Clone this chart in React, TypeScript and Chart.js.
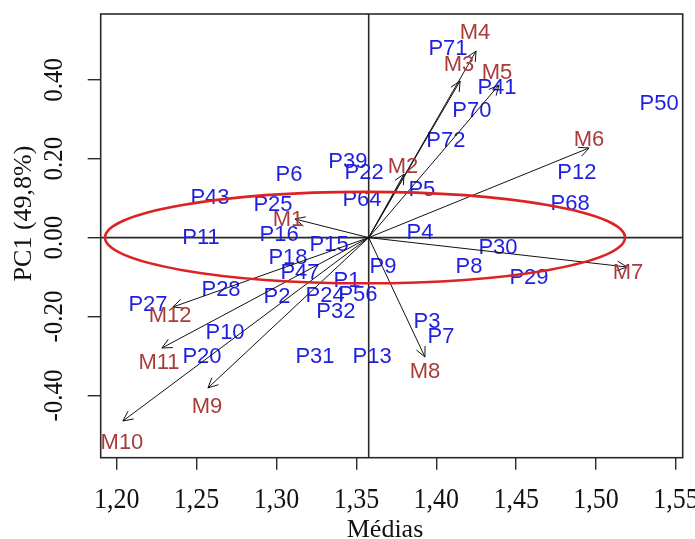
import React, { useEffect, useRef } from 'react';
import { Chart, registerables } from 'chart.js';

Chart.register(...registerables);

// ---------- data ----------
const xTickValues = [1.2, 1.25, 1.3, 1.35, 1.4, 1.45, 1.5, 1.55];
const xTickLabels = ['1,20', '1,25', '1,30', '1,35', '1,40', '1,45', '1,50', '1,55'];
const yTickValues = [-0.4, -0.2, 0, 0.2, 0.4];
const yTickLabels = ['-0.40', '-0.20', '0.00', '0.20', '0.40'];

const xTitle = 'Médias';
const yTitle = 'PC1 (49,8%)';

const xMin = 1.19;
const xMax = 1.5542;
const yMin = -0.5578;
const yMax = 0.5667;

// mean of "Médias" (vertical reference line, origin of the arrows)
const meanX = 1.3577;

const pLabels = [
  'P50', 'P71', 'P41', 'P70', 'P72', 'P39', 'P22', 'P6', 'P12', 'P43',
  'P25', 'P64', 'P5', 'P68', 'P11', 'P16', 'P15', 'P4', 'P30', 'P18',
  'P47', 'P9', 'P8', 'P29', 'P1', 'P28', 'P2', 'P24', 'P56', 'P27',
  'P32', 'P10', 'P20', 'P31', 'P13', 'P3', 'P7',
];
const pX = [
  1.5394, 1.4073, 1.438, 1.4223, 1.406, 1.3447, 1.3548, 1.3078, 1.488, 1.2584,
  1.2978, 1.3535, 1.391, 1.4837, 1.2528, 1.3016, 1.3329, 1.3898, 1.4386, 1.3072,
  1.3147, 1.3666, 1.4205, 1.458, 1.3441, 1.2653, 1.3003, 1.3304, 1.351, 1.2196,
  1.3372, 1.2678, 1.2534, 1.3241, 1.3598, 1.3942, 1.4029,
];
const pY = [
  0.3386, 0.478, 0.379, 0.321, 0.245, 0.1916, 0.1637, 0.1586, 0.1637, 0.1004,
  0.0826, 0.0953, 0.1206, 0.0851, -0.001, 0.0066, -0.0188, 0.0117, -0.0264, -0.0517,
  -0.0897, -0.0745, -0.0745, -0.1024, -0.11, -0.1328, -0.1505, -0.148, -0.1455, -0.1708,
  -0.1885, -0.2418, -0.3026, -0.3026, -0.3026, -0.2139, -0.2519,
];

const mLabels = ['M1', 'M2', 'M3', 'M4', 'M5', 'M6', 'M7', 'M8', 'M9', 'M10', 'M11', 'M12'];
const mX = [1.3072, 1.3792, 1.4142, 1.4242, 1.438, 1.4956, 1.52, 1.3929, 1.2565, 1.2033, 1.2265, 1.2334];
const mY = [0.0446, 0.1789, 0.4374, 0.5185, 0.4171, 0.2473, -0.0897, -0.3406, -0.4293, -0.5205, -0.3178, -0.1987];
const mArrowX = [1.3116, 1.3798, 1.4149, 1.4249, 1.4392, 1.4956, 1.5193, 1.3929, 1.2571, 1.2039, 1.2283, 1.2352];
const mArrowY = [0.0471, 0.1612, 0.3969, 0.4729, 0.3867, 0.2271, -0.0745, -0.3026, -0.3811, -0.4648, -0.2798, -0.1759];

const ellipseCenterX = 1.3554;
const ellipseCenterY = 0;
const ellipseRadiusX = 0.1627;
const ellipseRadiusY = 0.1158;

// ---------- styles ----------
const P_COLOR = '#1f1fe0';
const M_COLOR = '#a83c3a';
const ELLIPSE_COLOR = '#dc2323';
const AXIS_COLOR = '#2a2a2a';
const SANS = '"Liberation Sans", Arial, sans-serif';
const SERIF = '"Liberation Serif", "Times New Roman", serif';

const biplotPlugin = {
  id: 'biplot',
  afterDatasetsDraw(chart: any) {
    const ctx = chart.ctx as CanvasRenderingContext2D;
    const xs = chart.scales.x;
    const ys = chart.scales.y;
    const ca = chart.chartArea;
    const ox = xs.getPixelForValue(meanX);
    const oy = ys.getPixelForValue(0);

    ctx.save();
    // reference lines
    ctx.strokeStyle = AXIS_COLOR;
    ctx.lineWidth = 1.6;
    ctx.beginPath();
    ctx.moveTo(ox, ca.top);
    ctx.lineTo(ox, ca.bottom);
    ctx.moveTo(ca.left, oy);
    ctx.lineTo(ca.right, oy);
    ctx.stroke();

    // P labels
    ctx.font = `22px ${SANS}`;
    ctx.fillStyle = P_COLOR;
    ctx.textAlign = 'center';
    ctx.textBaseline = 'middle';
    chart.getDatasetMeta(0).data.forEach((el: any, i: number) => {
      ctx.fillText(pLabels[i], el.x, el.y);
    });

    // arrows
    ctx.strokeStyle = '#111';
    ctx.lineWidth = 1;
    chart.getDatasetMeta(2).data.forEach((el: any) => {
      const x1 = el.x;
      const y1 = el.y;
      const ang = Math.atan2(y1 - oy, x1 - ox);
      const hl = 11;
      const ha = Math.PI / 7;
      ctx.beginPath();
      ctx.moveTo(ox, oy);
      ctx.lineTo(x1, y1);
      ctx.moveTo(x1 - hl * Math.cos(ang - ha), y1 - hl * Math.sin(ang - ha));
      ctx.lineTo(x1, y1);
      ctx.lineTo(x1 - hl * Math.cos(ang + ha), y1 - hl * Math.sin(ang + ha));
      ctx.stroke();
    });

    // M labels
    ctx.font = `22px ${SANS}`;
    ctx.fillStyle = M_COLOR;
    chart.getDatasetMeta(1).data.forEach((el: any, i: number) => {
      ctx.fillText(mLabels[i], el.x, el.y);
    });

    // ellipse
    const ecx = xs.getPixelForValue(ellipseCenterX);
    const ecy = ys.getPixelForValue(ellipseCenterY);
    const erx = Math.abs(xs.getPixelForValue(ellipseCenterX + ellipseRadiusX) - ecx);
    const ery = Math.abs(ys.getPixelForValue(ellipseCenterY + ellipseRadiusY) - ecy);
    ctx.strokeStyle = ELLIPSE_COLOR;
    ctx.lineWidth = 2.6;
    ctx.beginPath();
    ctx.ellipse(ecx, ecy, erx, ery, 0, 0, Math.PI * 2);
    ctx.stroke();

    // box
    ctx.strokeStyle = AXIS_COLOR;
    ctx.lineWidth = 1.6;
    ctx.strokeRect(ca.left, ca.top, ca.right - ca.left, ca.bottom - ca.top);

    // x tick labels
    ctx.fillStyle = '#111';
    ctx.font = `26px ${SERIF}`;
    ctx.textAlign = 'center';
    ctx.textBaseline = 'alphabetic';
    xs.ticks.forEach((t: any, i: number) => {
      ctx.save();
      ctx.translate(xs.getPixelForValue(t.value), 508);
      ctx.scale(1, 1.14);
      ctx.fillText(xTickLabels[i], 0, 0);
      ctx.restore();
    });
    // x title
    ctx.fillText(xTitle, 385, 537);

    // y tick labels (rotated)
    ctx.font = `25px ${SERIF}`;
    ys.ticks.forEach((t: any, i: number) => {
      ctx.save();
      ctx.translate(61.5, ys.getPixelForValue(t.value));
      ctx.rotate(-Math.PI / 2);
      ctx.scale(1, 1.08);
      ctx.fillText(yTickLabels[i], 0, 0);
      ctx.restore();
    });
    // y title
    ctx.font = `26px ${SERIF}`;
    ctx.save();
    ctx.translate(30.5, 213.5);
    ctx.rotate(-Math.PI / 2);
    ctx.fillText(yTitle, 0, 0);
    ctx.restore();

    ctx.restore();
  },
};

export default function App() {
  const ref = useRef<HTMLCanvasElement | null>(null);

  useEffect(() => {
    if (!ref.current) return;
    const chart = new Chart(ref.current, {
      type: 'scatter',
      data: {
        datasets: [
          {
            label: 'P',
            data: pX.map((x, i) => ({ x, y: pY[i] })),
            pointRadius: 0,
            pointHoverRadius: 0,
          },
          {
            label: 'M',
            data: mX.map((x, i) => ({ x, y: mY[i] })),
            pointRadius: 0,
            pointHoverRadius: 0,
          },
          {
            label: 'arrows',
            data: mArrowX.map((x, i) => ({ x, y: mArrowY[i] })),
            pointRadius: 0,
            pointHoverRadius: 0,
          },
        ],
      },
      options: {
        animation: false,
        responsive: false,
        events: [],
        layout: { padding: { left: 0, top: 14, right: 12.3, bottom: 0 } },
        plugins: {
          legend: { display: false },
          tooltip: { enabled: false },
          title: { display: false },
        },
        scales: {
          x: {
            type: 'linear',
            position: 'bottom',
            min: xMin,
            max: xMax,
            afterBuildTicks: (s: any) => {
              s.ticks = xTickValues.map((v) => ({ value: v }));
            },
            afterFit: (s: any) => {
              s.height = 81.3;
            },
            ticks: { display: false },
            grid: {
              drawOnChartArea: false,
              drawTicks: true,
              tickLength: 12,
              color: AXIS_COLOR,
              lineWidth: 1.4,
            },
            border: { display: false },
          },
          y: {
            type: 'linear',
            position: 'left',
            min: yMin,
            max: yMax,
            afterBuildTicks: (s: any) => {
              s.ticks = yTickValues.map((v) => ({ value: v }));
            },
            afterFit: (s: any) => {
              s.width = 100.7;
            },
            ticks: { display: false },
            grid: {
              drawOnChartArea: false,
              drawTicks: true,
              tickLength: 13,
              color: AXIS_COLOR,
              lineWidth: 1.4,
            },
            border: { display: false },
          },
        },
      },
      plugins: [biplotPlugin],
    });
    return () => chart.destroy();
  }, []);

  return (
    <div style={{ position: 'fixed', left: 0, top: 0, width: 695, height: 539, background: '#fff' }}>
      <canvas ref={ref} width={695} height={539} style={{ display: 'block' }} />
    </div>
  );
}
